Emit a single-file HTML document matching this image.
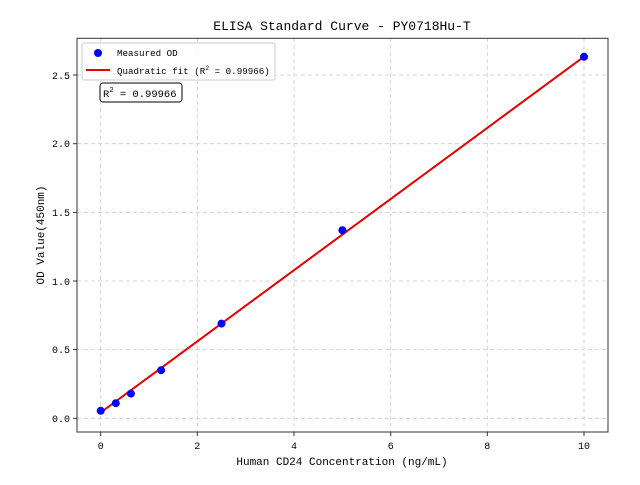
<!DOCTYPE html>
<html><head><meta charset="utf-8"><style>
body{margin:0;background:#fff}
text{font-family:"Liberation Mono",monospace;fill:#000}
</style></head><body>
<svg width="640" height="480" xmlns="http://www.w3.org/2000/svg">
<rect width="640" height="480" fill="#fff"/>
<g stroke="#ccc" stroke-dasharray="4,3" stroke-width="0.8">
<line x1="100.7" y1="38" x2="100.7" y2="432"/><line x1="197.3" y1="38" x2="197.3" y2="432"/><line x1="294" y1="38" x2="294" y2="432"/><line x1="390.7" y1="38" x2="390.7" y2="432"/><line x1="487.3" y1="38" x2="487.3" y2="432"/><line x1="584" y1="38" x2="584" y2="432"/>
<line x1="77" y1="418.3" x2="608" y2="418.3"/><line x1="77" y1="349.6" x2="608" y2="349.6"/><line x1="77" y1="281" x2="608" y2="281"/><line x1="77" y1="212.4" x2="608" y2="212.4"/><line x1="77" y1="143.7" x2="608" y2="143.7"/><line x1="77" y1="75" x2="608" y2="75"/>
</g>
<line x1="100.7" y1="412.5" x2="584" y2="56.7" stroke="#e00000" stroke-width="2"/>
<g fill="#0000ff">
<circle cx="100.7" cy="410.8" r="4"/><circle cx="115.8" cy="403.2" r="4"/><circle cx="130.9" cy="393.6" r="4"/><circle cx="161.1" cy="370.2" r="4"/><circle cx="221.5" cy="323.6" r="4"/><circle cx="342.4" cy="230.2" r="4"/><circle cx="584" cy="56.8" r="4"/>
</g>
<rect x="77" y="38.3" width="531" height="393.7" fill="none" stroke="#333" stroke-width="1"/>
<g stroke="#333">
<line x1="100.7" y1="432" x2="100.7" y2="436"/><line x1="197.3" y1="432" x2="197.3" y2="436"/><line x1="294" y1="432" x2="294" y2="436"/><line x1="390.7" y1="432" x2="390.7" y2="436"/><line x1="487.3" y1="432" x2="487.3" y2="436"/><line x1="584" y1="432" x2="584" y2="436"/>
<line x1="73" y1="418.3" x2="77" y2="418.3"/><line x1="73" y1="349.6" x2="77" y2="349.6"/><line x1="73" y1="281" x2="77" y2="281"/><line x1="73" y1="212.4" x2="77" y2="212.4"/><line x1="73" y1="143.7" x2="77" y2="143.7"/><line x1="73" y1="75" x2="77" y2="75"/>
</g>
<g font-size="10" text-anchor="middle">
<text x="100.7" y="449">0</text><text x="197.3" y="449">2</text><text x="294" y="449">4</text><text x="390.7" y="449">6</text><text x="487.3" y="449">8</text><text x="584" y="449">10</text>
</g>
<g font-size="10" text-anchor="end">
<text x="70" y="422">0.0</text><text x="70" y="353">0.5</text><text x="70" y="285">1.0</text><text x="70" y="216">1.5</text><text x="70" y="147">2.0</text><text x="70" y="79">2.5</text>
</g>
<text x="342" y="465" font-size="11" text-anchor="middle">Human CD24 Concentration (ng/mL)</text>
<text transform="translate(44,235) rotate(-90)" font-size="11" text-anchor="middle">OD Value(450nm)</text>
<text x="342" y="30" font-size="13" text-anchor="middle">ELISA Standard Curve - PY0718Hu-T</text>
<rect x="82" y="43" width="193" height="37" rx="2" fill="#fff" fill-opacity="0.85" stroke="#ccc"/>
<circle cx="98" cy="53" r="4" fill="#0000ff"/>
<text x="117" y="56" font-size="9.2">Measured OD</text>
<line x1="86" y1="70" x2="110" y2="70" stroke="#e00000" stroke-width="2"/>
<text x="117" y="74" font-size="9.2">Quadratic fit (R<tspan dy="-4" font-size="6.5">2</tspan><tspan dy="4"> = 0.99966)</tspan></text>
<rect x="100" y="83" width="82" height="19" rx="3" fill="#fff" stroke="#000"/>
<text x="103" y="97" font-size="10.5">R<tspan dy="-5" font-size="7">2</tspan><tspan dy="5"> = 0.99966</tspan></text>
</svg>
</body></html>
